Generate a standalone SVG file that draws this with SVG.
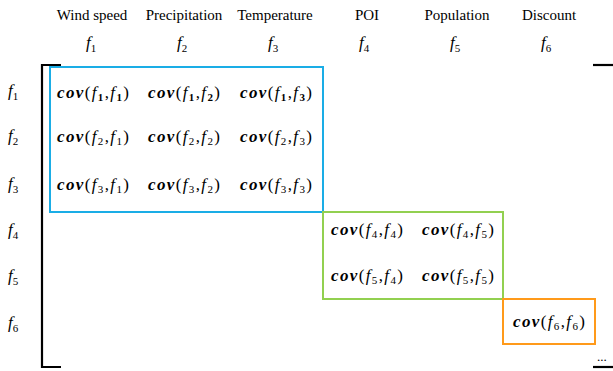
<svg xmlns="http://www.w3.org/2000/svg" width="613" height="371" viewBox="0 0 613 371">
<style>
.hd{font-family:"Liberation Serif","Times New Roman",serif;font-size:15px;fill:#000;text-anchor:middle}
.fv{font-family:"Liberation Serif","Times New Roman",serif;font-style:italic;font-size:17px;fill:#000}
.sub{font-size:11px;font-style:normal}
.cell{font-family:"Liberation Serif","Times New Roman",serif;font-style:italic;font-size:17px;fill:#000}
.b{font-weight:bold}
.u{font-style:normal}
.br{stroke:#000;stroke-width:2.2;fill:none}
.box{fill:none;stroke-width:2}
</style>
<rect width="613" height="371" fill="#fff"/>
<g id="headers">
<text class="hd" x="92" y="20">Wind speed</text>
<text class="hd" x="184" y="20">Precipitation</text>
<text class="hd" x="275" y="20">Temperature</text>
<text class="hd" x="367" y="20">POI</text>
<text class="hd" x="457" y="20">Population</text>
<text class="hd" x="549" y="20">Discount</text>
</g>
<g id="col-labels">
<text class="fv" x="86" y="48">f<tspan class="sub" dy="4">1</tspan></text>
<text class="fv" x="177" y="48">f<tspan class="sub" dy="4">2</tspan></text>
<text class="fv" x="268" y="48">f<tspan class="sub" dy="4">3</tspan></text>
<text class="fv" x="359" y="48">f<tspan class="sub" dy="4">4</tspan></text>
<text class="fv" x="450" y="48">f<tspan class="sub" dy="4">5</tspan></text>
<text class="fv" x="541" y="48">f<tspan class="sub" dy="4">6</tspan></text>
</g>
<g id="row-labels">
<text class="fv" x="8" y="96">f<tspan class="sub" dy="4">1</tspan></text>
<text class="fv" x="8" y="141">f<tspan class="sub" dy="4">2</tspan></text>
<text class="fv" x="8" y="189">f<tspan class="sub" dy="4">3</tspan></text>
<text class="fv" x="8" y="235">f<tspan class="sub" dy="4">4</tspan></text>
<text class="fv" x="8" y="281">f<tspan class="sub" dy="4">5</tspan></text>
<text class="fv" x="8" y="328">f<tspan class="sub" dy="4">6</tspan></text>
</g>
<g id="brackets">
<path class="br" d="M61,65 H42 V367 H61"/>
<path class="br" d="M593,65 H613"/>
<path class="br" d="M593,367 H613"/>
<text x="597" y="361" style="font-family:'Liberation Serif',serif;font-size:13px;fill:#000">...</text>
</g>
<g id="block-blue">
<rect class="box" x="50" y="67" width="273" height="145" stroke="#1AADE6"/>
<text class="cell" x="57" y="98" textLength="72" lengthAdjust="spacing"><tspan class="b">cov</tspan><tspan class="u">(</tspan>f<tspan class="sub b" dy="3">1</tspan><tspan class="u" dy="-3">,</tspan>f<tspan class="sub b" dy="3">1</tspan><tspan class="u" dy="-3">)</tspan></text>
<text class="cell" x="148" y="98" textLength="72" lengthAdjust="spacing"><tspan class="b">cov</tspan><tspan class="u">(</tspan>f<tspan class="sub b" dy="3">1</tspan><tspan class="u" dy="-3">,</tspan>f<tspan class="sub b" dy="3">2</tspan><tspan class="u" dy="-3">)</tspan></text>
<text class="cell" x="240" y="98" textLength="72" lengthAdjust="spacing"><tspan class="b">cov</tspan><tspan class="u">(</tspan>f<tspan class="sub b" dy="3">1</tspan><tspan class="u" dy="-3">,</tspan>f<tspan class="sub b" dy="3">3</tspan><tspan class="u" dy="-3">)</tspan></text>
<text class="cell" x="57" y="142" textLength="72" lengthAdjust="spacing"><tspan class="b">cov</tspan><tspan class="u">(</tspan>f<tspan class="sub" dy="3">2</tspan><tspan class="u" dy="-3">,</tspan>f<tspan class="sub" dy="3">1</tspan><tspan class="u" dy="-3">)</tspan></text>
<text class="cell" x="148" y="142" textLength="72" lengthAdjust="spacing"><tspan class="b">cov</tspan><tspan class="u">(</tspan>f<tspan class="sub" dy="3">2</tspan><tspan class="u" dy="-3">,</tspan>f<tspan class="sub" dy="3">2</tspan><tspan class="u" dy="-3">)</tspan></text>
<text class="cell" x="240" y="142" textLength="72" lengthAdjust="spacing"><tspan class="b">cov</tspan><tspan class="u">(</tspan>f<tspan class="sub" dy="3">2</tspan><tspan class="u" dy="-3">,</tspan>f<tspan class="sub" dy="3">3</tspan><tspan class="u" dy="-3">)</tspan></text>
<text class="cell" x="57" y="190" textLength="72" lengthAdjust="spacing"><tspan class="b">cov</tspan><tspan class="u">(</tspan>f<tspan class="sub" dy="3">3</tspan><tspan class="u" dy="-3">,</tspan>f<tspan class="sub" dy="3">1</tspan><tspan class="u" dy="-3">)</tspan></text>
<text class="cell" x="148" y="190" textLength="72" lengthAdjust="spacing"><tspan class="b">cov</tspan><tspan class="u">(</tspan>f<tspan class="sub" dy="3">3</tspan><tspan class="u" dy="-3">,</tspan>f<tspan class="sub" dy="3">2</tspan><tspan class="u" dy="-3">)</tspan></text>
<text class="cell" x="240" y="190" textLength="72" lengthAdjust="spacing"><tspan class="b">cov</tspan><tspan class="u">(</tspan>f<tspan class="sub" dy="3">3</tspan><tspan class="u" dy="-3">,</tspan>f<tspan class="sub" dy="3">3</tspan><tspan class="u" dy="-3">)</tspan></text>
</g>
<g id="block-green">
<rect class="box" x="323" y="212" width="180" height="87" stroke="#92D050"/>
<text class="cell" x="331" y="235" textLength="72" lengthAdjust="spacing"><tspan class="b">cov</tspan><tspan class="u">(</tspan>f<tspan class="sub" dy="3">4</tspan><tspan class="u" dy="-3">,</tspan>f<tspan class="sub" dy="3">4</tspan><tspan class="u" dy="-3">)</tspan></text>
<text class="cell" x="422" y="235" textLength="72" lengthAdjust="spacing"><tspan class="b">cov</tspan><tspan class="u">(</tspan>f<tspan class="sub" dy="3">4</tspan><tspan class="u" dy="-3">,</tspan>f<tspan class="sub" dy="3">5</tspan><tspan class="u" dy="-3">)</tspan></text>
<text class="cell" x="331" y="281" textLength="72" lengthAdjust="spacing"><tspan class="b">cov</tspan><tspan class="u">(</tspan>f<tspan class="sub" dy="3">5</tspan><tspan class="u" dy="-3">,</tspan>f<tspan class="sub" dy="3">4</tspan><tspan class="u" dy="-3">)</tspan></text>
<text class="cell" x="422" y="281" textLength="72" lengthAdjust="spacing"><tspan class="b">cov</tspan><tspan class="u">(</tspan>f<tspan class="sub" dy="3">5</tspan><tspan class="u" dy="-3">,</tspan>f<tspan class="sub" dy="3">5</tspan><tspan class="u" dy="-3">)</tspan></text>
</g>
<g id="block-orange">
<rect class="box" x="503" y="299" width="92" height="45" stroke="#FF9A1A"/>
<text class="cell" x="513" y="327" textLength="72" lengthAdjust="spacing"><tspan class="b">cov</tspan><tspan class="u">(</tspan>f<tspan class="sub" dy="3">6</tspan><tspan class="u" dy="-3">,</tspan>f<tspan class="sub" dy="3">6</tspan><tspan class="u" dy="-3">)</tspan></text>
</g>
</svg>
